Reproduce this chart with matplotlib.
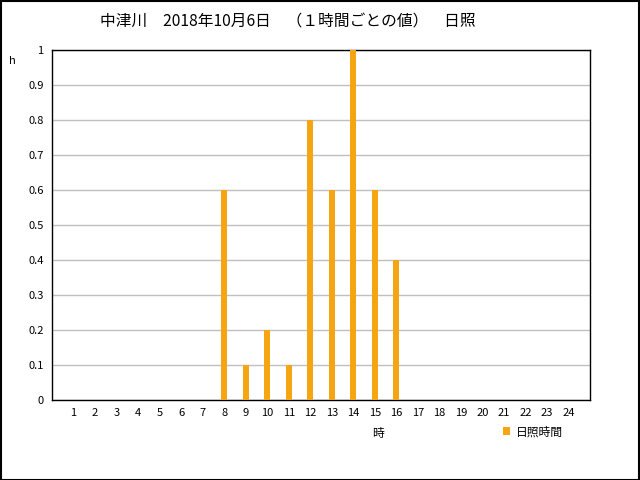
import matplotlib
matplotlib.use("Agg")
import matplotlib.pyplot as plt
from matplotlib.patches import Rectangle

plt.rcParams['font.family'] = ['Noto Sans CJK JP', 'DejaVu Sans']

hours = list(range(1, 25))
values = [0, 0, 0, 0, 0, 0, 0, 0.6, 0.1, 0.2, 0.1, 0.8, 0.6, 1.0, 0.6, 0.4,
          0, 0, 0, 0, 0, 0, 0, 0]
yticks = [0, 0.1, 0.2, 0.3, 0.4, 0.5, 0.6, 0.7, 0.8, 0.9, 1]
ytick_labels = ['0', '0.1', '0.2', '0.3', '0.4', '0.5', '0.6', '0.7', '0.8', '0.9', '1']
title = '中津川　2018年10月6日　（１時間ごとの値）　日照'
series_name = '日照時間'
color = '#F5A511'

fig = plt.figure(figsize=(6.4, 4.8), dpi=100)
ax = fig.add_axes([52/640, 1 - 400/480, (590-52)/640, (400-50)/480])

ax.bar(hours, values, width=0.28, color=color, zorder=3, label=series_name)
ax.set_xlim(0, 25)
ax.set_ylim(0, 1)
ax.set_xticks(hours)
ax.set_xticklabels([str(h) for h in hours], fontsize=8)
ax.set_yticks(yticks)
ax.set_yticklabels(ytick_labels, fontsize=8)
ax.tick_params(length=0, pad=6)
ax.set_xticks([3, 6, 9, 12, 15, 18, 21, 24], minor=True)
ax.tick_params(which='minor', length=0)
ax.grid(True, which='minor', axis='x', color='#c0c0c0', linewidth=1, zorder=0)
ax.grid(True, which='major', axis='y', color='#c0c0c0', linewidth=1, zorder=0)
for s in ax.spines.values():
    s.set_color('black')
    s.set_linewidth(1.0)

fig.text(288/640, 1 - 22/480, title, ha='center', va='center', fontsize=11.3)
fig.text(12/640, 1 - 61/480, 'h', ha='center', va='center', fontsize=8)
fig.text(378/640, 1 - 433/480, '時', ha='center', va='center', fontsize=8.5)
leg = ax.legend(loc='upper left', bbox_to_anchor=(451/538, -0.072), frameon=False,
                fontsize=8.5, handlelength=0.6, handleheight=0.6, handletextpad=0.5,
                borderpad=0, borderaxespad=0)

fig.add_artist(Rectangle((0.5/640, 0.5/480), 1 - 1.5/640, 1 - 1.5/480,
                         transform=fig.transFigure, fill=False,
                         edgecolor='black', linewidth=1.5))

fig.savefig('out.png', dpi=100)
